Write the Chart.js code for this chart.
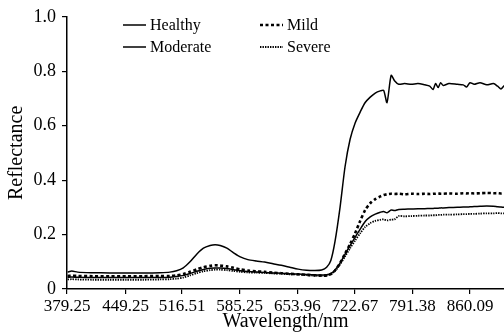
<!DOCTYPE html>
<html>
<head>
<meta charset="utf-8">
<script src="https://cdn.jsdelivr.net/npm/chart.js@4/dist/chart.umd.min.js"></script>
<style>
    html, body { margin: 0; padding: 0; background: #fff; }
    #wrap { width: 504px; height: 332px; }
</style>
</head>
<body>
<div id="wrap"><canvas id="spectraChart"></canvas></div>
<script>
// band centres (nm)
const wavelengths = [380, 385, 392, 410, 430, 450, 470, 490, 502, 510, 518, 526, 534, 542, 550, 556, 562, 570, 578, 586,
    595, 605, 615, 625, 635, 645, 655, 665, 675, 683, 689, 694, 699, 705, 711, 717, 723, 729, 735, 741,
    747, 753, 757, 761, 766, 770, 775, 782, 790, 798, 806, 812, 816, 819, 822, 825, 828, 835, 845, 852,
    856, 860, 865, 872, 880, 888, 893, 897, 901];

const healthy = [0.062, 0.066, 0.062, 0.060, 0.059, 0.059, 0.059, 0.060, 0.062, 0.067, 0.078, 0.100, 0.128, 0.150, 0.160, 0.163, 0.160, 0.150, 0.133, 0.118,
    0.108, 0.103, 0.099, 0.093, 0.087, 0.080, 0.073, 0.069, 0.068, 0.070, 0.080, 0.105, 0.175, 0.300, 0.450, 0.550, 0.610, 0.650, 0.685, 0.705,
    0.720, 0.728, 0.730, 0.685, 0.785, 0.765, 0.752, 0.755, 0.752, 0.755, 0.750, 0.745, 0.733, 0.755, 0.740, 0.758, 0.748, 0.755, 0.752, 0.750,
    0.742, 0.758, 0.752, 0.758, 0.750, 0.755, 0.745, 0.735, 0.748];

const mild = [0.048, 0.049, 0.048, 0.047, 0.047, 0.047, 0.047, 0.048, 0.048, 0.050, 0.055, 0.063, 0.072, 0.080, 0.085, 0.087, 0.086, 0.083, 0.078, 0.072,
    0.068, 0.065, 0.063, 0.060, 0.058, 0.056, 0.054, 0.052, 0.050, 0.049, 0.050, 0.055, 0.068, 0.095, 0.130, 0.165, 0.205, 0.250, 0.290, 0.315,
    0.330, 0.340, 0.345, 0.348, 0.350, 0.349, 0.350, 0.348, 0.350, 0.349, 0.350, 0.349, 0.350, 0.350, 0.351, 0.350, 0.350, 0.351, 0.350, 0.352,
    0.351, 0.352, 0.351, 0.352, 0.353, 0.352, 0.352, 0.351, 0.352];

const moderate = [0.043, 0.044, 0.043, 0.042, 0.042, 0.042, 0.042, 0.042, 0.043, 0.046, 0.050, 0.057, 0.065, 0.072, 0.076, 0.077, 0.077, 0.075, 0.071, 0.067,
    0.064, 0.062, 0.061, 0.059, 0.058, 0.056, 0.055, 0.053, 0.052, 0.051, 0.052, 0.057, 0.070, 0.095, 0.128, 0.160, 0.190, 0.220, 0.248, 0.265,
    0.275, 0.282, 0.285, 0.280, 0.290, 0.288, 0.292, 0.293, 0.294, 0.295, 0.295, 0.296, 0.296, 0.297, 0.297, 0.298, 0.298, 0.299, 0.300, 0.301,
    0.301, 0.302, 0.303, 0.304, 0.305, 0.304, 0.302, 0.301, 0.300];

const severe = [0.035, 0.036, 0.035, 0.034, 0.034, 0.034, 0.034, 0.035, 0.036, 0.038, 0.042, 0.050, 0.058, 0.065, 0.069, 0.071, 0.071, 0.069, 0.066, 0.063,
    0.061, 0.060, 0.059, 0.057, 0.056, 0.054, 0.053, 0.051, 0.049, 0.048, 0.049, 0.054, 0.066, 0.090, 0.120, 0.150, 0.178, 0.205, 0.228, 0.242,
    0.250, 0.254, 0.256, 0.252, 0.255, 0.256, 0.268, 0.267, 0.268, 0.269, 0.270, 0.270, 0.271, 0.271, 0.272, 0.272, 0.273, 0.273, 0.274, 0.275,
    0.275, 0.276, 0.276, 0.277, 0.278, 0.278, 0.279, 0.278, 0.278];

const xTicks = [379.25, 449.25, 516.51, 585.25, 653.96, 722.67, 791.38, 860.09];
const yTicks = [0, 0.2, 0.4, 0.6, 0.8, 1.0];

function pts(values) {
    return values.map(function (v, i) { return { x: wavelengths[i], y: v }; });
}

const serif = "'Liberation Serif', 'Times New Roman', serif";

// legend drawn in two columns inside the plot
const legendInside = {
    id: "legendInside",
    afterDraw: function (chart) {
        let ctx = chart.ctx;
        let spots = [[123, 25], [123, 47], [260, 25], [260, 47]];
        ctx.save();
        ctx.font = "16px " + serif;
        ctx.fillStyle = "#000";
        ctx.textBaseline = "middle";
        chart.data.datasets.forEach(function (ds, i) {
            let p = spots[i];
            ctx.beginPath();
            ctx.strokeStyle = "#000";
            ctx.lineWidth = ds.borderWidth;
            ctx.setLineDash(ds.borderDash || []);
            ctx.moveTo(p[0], p[1]);
            ctx.lineTo(p[0] + 23, p[1]);
            ctx.stroke();
            ctx.setLineDash([]);
            ctx.fillText(ds.label, p[0] + 27, p[1] + 1);
        });
        ctx.restore();
    }
};

let ctx = document.getElementById("spectraChart").getContext("2d");

new Chart(ctx, {
    type: "line",
    data: {
        datasets: [
            { label: "Healthy", data: pts(healthy), borderColor: "#000", borderWidth: 1.5 },
            { label: "Moderate", data: pts(moderate), borderColor: "#000", borderWidth: 1.5 },
            { label: "Mild", data: pts(mild), borderColor: "#000", borderWidth: 2.6, borderDash: [3, 2.5] },
            { label: "Severe", data: pts(severe), borderColor: "#000", borderWidth: 1.8, borderDash: [1.4, 1.1] }
        ]
    },
    options: {
        responsive: true,
        maintainAspectRatio: false,
        animation: false,
        layout: { padding: { top: 16, right: 0, bottom: 0, left: 0 } },
        elements: {
            point: { radius: 0 },
            line: { tension: 0.25, fill: false }
        },
        plugins: {
            legend: { display: false },
            tooltip: { enabled: false }
        },
        scales: {
            x: {
                type: "linear",
                min: 379.25,
                max: 900.6,
                afterBuildTicks: function (scale) {
                    scale.ticks = xTicks.map(function (v) { return { value: v }; });
                },
                afterFit: function (scale) { scale.height = 43; },
                ticks: {
                    color: "#000",
                    font: { family: serif, size: 17 },
                    padding: 2,
                    maxRotation: 0,
                    autoSkip: false,
                    callback: function (v) { return v.toFixed(2); }
                },
                grid: { drawOnChartArea: false, drawTicks: true, tickLength: 5, color: "#000", lineWidth: 1.2 },
                border: { color: "#000", width: 1.5 },
                title: {
                    display: true,
                    text: "Wavelength/nm",
                    color: "#000",
                    font: { family: serif, size: 20, lineHeight: 1 },
                    padding: { top: 0, bottom: 0 }
                }
            },
            y: {
                min: 0,
                max: 1,
                afterBuildTicks: function (scale) {
                    scale.ticks = yTicks.map(function (v) { return { value: v }; });
                },
                afterFit: function (scale) { scale.width = 67; },
                ticks: {
                    color: "#000",
                    font: { family: serif, size: 18 },
                    padding: 6,
                    callback: function (v) { return v === 0 ? "0" : v.toFixed(1); }
                },
                grid: { drawOnChartArea: false, drawTicks: true, tickLength: 5, color: "#000", lineWidth: 1.2 },
                border: { color: "#000", width: 1.5 },
                title: {
                    display: true,
                    text: "Reflectance",
                    color: "#000",
                    font: { family: serif, size: 20, lineHeight: 1 },
                    padding: { top: 7, bottom: 0 }
                }
            }
        }
    },
    plugins: [legendInside]
});
</script>
</body>
</html>
